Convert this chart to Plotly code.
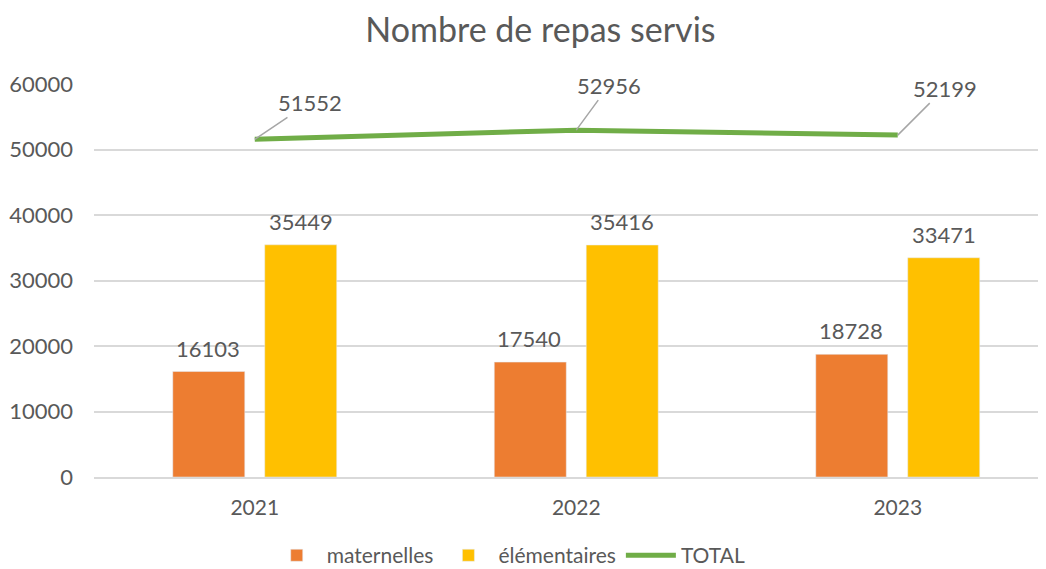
import plotly.graph_objects as go

years = ["2021", "2022", "2023"]
maternelles = [16103, 17540, 18728]
elementaires = [35449, 35416, 33471]
total = [51552, 52956, 52199]
y_ticks = [0, 10000, 20000, 30000, 40000, 50000, 60000]

TXT = "#595959"
FONT = "Lato"

fig = go.Figure()
fig.add_trace(go.Bar(x=years, y=maternelles, name="maternelles", marker_color="#ED7D31"))
fig.add_trace(go.Bar(x=years, y=elementaires, name="élémentaires", marker_color="#FFC000"))
fig.add_trace(go.Scatter(x=years, y=total, name="TOTAL", mode="lines",
                         line=dict(color="#70AD47", width=5)))

ann = []
for i, yv in enumerate(years):
    ann.append(dict(x=i, y=maternelles[i], text=str(maternelles[i]), xref="x", yref="y",
                    showarrow=False, yanchor="bottom", yshift=8, xshift=-47,
                    font=dict(family=FONT, size=22, color=TXT)))
    ann.append(dict(x=i, y=elementaires[i], text=str(elementaires[i]), xref="x", yref="y",
                    showarrow=False, yanchor="bottom", yshift=8, xshift=46,
                    font=dict(family=FONT, size=22, color=TXT)))
offs = [(55, -37), (33, -45), (47, -47)]
for i, yv in enumerate(years):
    ax, ay = offs[i]
    ann.append(dict(x=i, y=total[i], text=str(total[i]), xref="x", yref="y",
                    showarrow=True, arrowhead=0, arrowwidth=1.5, arrowcolor="#A6A6A6",
                    ax=ax, ay=ay, font=dict(family=FONT, size=22, color=TXT)))

fig.update_layout(
    width=1046, height=569,
    margin=dict(l=86, r=0, t=76, b=100, autoexpand=False),
    paper_bgcolor="white", plot_bgcolor="white",
    font=dict(family=FONT, color=TXT, size=20),
    title=dict(text="Nombre de repas servis", x=0.509, xanchor="center", y=0.961, yanchor="middle",
               font=dict(family=FONT, size=34, color=TXT)),
    barmode="group", bargap=0.428, bargroupgap=0.217,
    xaxis=dict(type="category", range=[-0.5, 2.486], showgrid=False, showline=True,
               linecolor="#D9D9D9", linewidth=1.5, ticks="", ticklabelstandoff=11,
               automargin=False, tickfont=dict(family=FONT, size=21, color=TXT)),
    yaxis=dict(range=[0, 60000], tickvals=y_ticks, tickformat="d", showgrid=True,
               gridcolor="#D9D9D9", gridwidth=1.5, zeroline=False, showline=False, ticks="",
               ticklabelstandoff=20, automargin=False,
               tickfont=dict(family=FONT, size=22, color=TXT)),
    legend=dict(orientation="h", x=0.432, xanchor="center", y=-0.2, yanchor="middle",
                itemwidth=50, font=dict(family=FONT, size=21, color=TXT), traceorder="normal"),
    annotations=ann,
)

fig.write_html("out.html")
